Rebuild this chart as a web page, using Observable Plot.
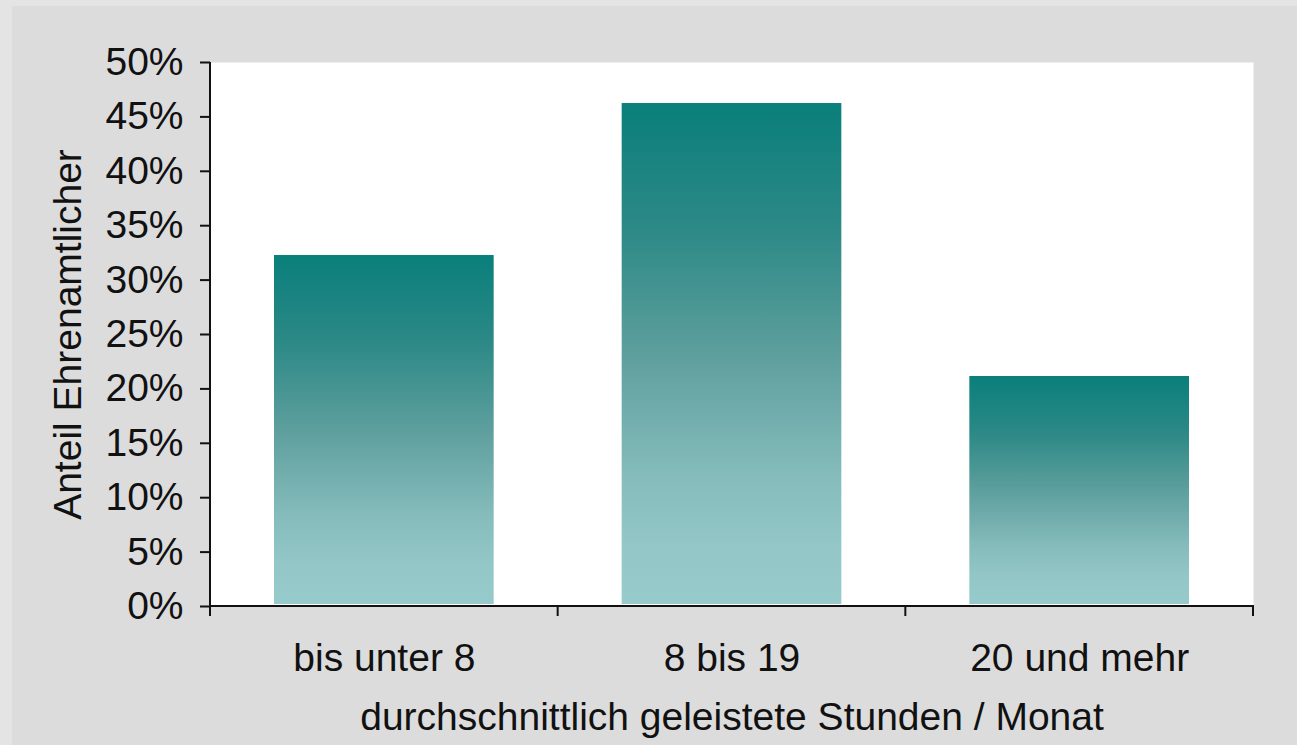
<!DOCTYPE html>
<html><head><meta charset="utf-8">
<script src="https://cdn.jsdelivr.net/npm/d3@7"></script>
<script src="https://cdn.jsdelivr.net/npm/@observablehq/plot@0.6"></script>
<style>
html,body{margin:0;padding:0;background:#e4e4e4;width:1297px;height:745px;overflow:hidden}
#panel{position:absolute;left:12px;top:6px;right:0;bottom:0;background:#dcdcdc}
#chart{position:absolute;left:0;top:0}
</style></head><body><div id="panel"></div><div id="chart"></div>
<script>
const categories = ["bis unter 8", "8 bis 19", "20 und mehr"];
const shares = [0.3226, 0.4623, 0.2114];
const yTicks = [0, 0.05, 0.10, 0.15, 0.20, 0.25, 0.30, 0.35, 0.40, 0.45, 0.50];
const xLabel = "durchschnittlich geleistete Stunden / Monat";
const yLabel = "Anteil Ehrenamtlicher";

const data = categories.map((c, i) => ({category: c, share: shares[i]}));
const yMax = yTicks[yTicks.length - 1];

function axisLines(index, scales) {
  const x = scales.x, y = scales.y;
  const bw = x.bandwidth();
  const g = d3.create("svg:g").attr("stroke", "#111").attr("stroke-width", 2).attr("fill", "none");
  const x0 = x(categories[0]);
  const bounds = categories.map(c => x(c)).concat([x(categories[categories.length - 1]) + bw]);
  g.append("line").attr("x1", x0).attr("x2", x0).attr("y1", y(yMax)).attr("y2", y(0));
  for (const bx of bounds) g.append("line").attr("x1", bx).attr("x2", bx).attr("y1", y(0)).attr("y2", y(0) + 10);
  g.append("line").attr("x1", x0 - 1).attr("x2", bounds[bounds.length - 1] + 1).attr("y1", y(0)).attr("y2", y(0));
  return g.node();
}

const chart = Plot.plot({
  width: 1297,
  height: 745,
  marginLeft: 210,
  marginRight: 44,
  marginTop: 62,
  marginBottom: 139,
  style: {background: "transparent", fontFamily: "'Liberation Sans', Arial, sans-serif", fontSize: "39px", color: "#111"},
  x: {domain: categories, padding: 0, round: false},
  y: {domain: [0, yMax]},
  marks: [
    Plot.frame({fill: "white", stroke: null}),
    Plot.barY(data, {x: "category", y: "share", fill: "url(#barGrad)", insetLeft: 64, insetRight: 64, insetBottom: 2}),
    Plot.axisY({ticks: yTicks, tickFormat: d3.format(".0%"), tickSize: 10, tickPadding: 17, strokeWidth: 2, stroke: "#111", fill: "#111", label: null, fontSize: 39}),
    Plot.axisX({tickSize: 0, tickPadding: 37, label: null, fill: "#111", fontSize: 39}),
    Plot.text([xLabel], {frameAnchor: "bottom", lineAnchor: "top", dy: 96, fontSize: 39, fill: "#111"}),
    Plot.text([yLabel], {frameAnchor: "left", textAnchor: "middle", rotate: -90, lineAnchor: "middle", dx: -142, fontSize: 39, fill: "#111"}),
    axisLines
  ]
});

const defs = d3.select(chart).insert("defs", ":first-child");
const grad = defs.append("linearGradient").attr("id", "barGrad").attr("x1", 0).attr("y1", 0).attr("x2", 0).attr("y2", 1);
[[0, "#0a7f7b"], [0.25, "#2c8986"], [0.5, "#5d9f9d"], [0.75, "#86bcbc"], [0.88, "#93c7c7"], [1, "#97caca"]]
  .forEach(([o, c]) => grad.append("stop").attr("offset", o).attr("stop-color", c));

document.getElementById("chart").appendChild(chart);
</script>
</body></html>
